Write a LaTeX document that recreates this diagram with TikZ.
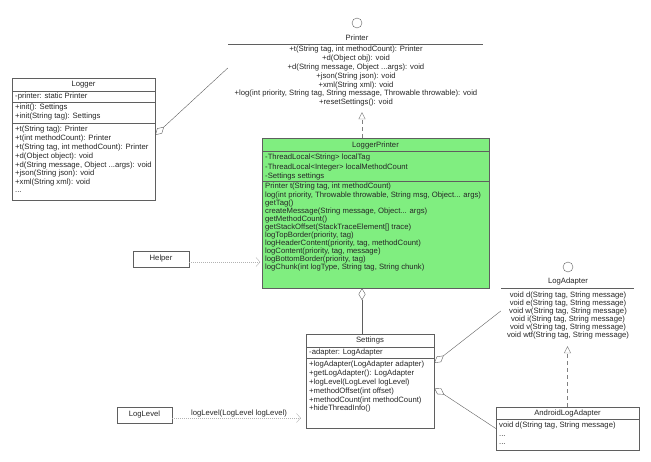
\documentclass[tikz,border=0pt]{standalone}
\usepackage{fontspec}
\setmainfont{Liberation Sans}
\usetikzlibrary{calc,arrows.meta}
\definecolor{linegray}{RGB}{95,95,95}
\definecolor{lpgreen}{RGB}{128,238,128}
\newcommand\threedots{...}
\tikzset{
    cls/.style={draw=linegray,rectangle,inner sep=0pt},
    mem/.style={anchor=west,inner sep=0pt,text=black!85,font=\fontsize{7.7}{9}\selectfont},
    ttl/.style={inner sep=0pt,text=black!85,font=\fontsize{7.7}{9}\selectfont},
    agg/.style={draw=linegray,{Diamond[open,length=12pt,width=7pt]}-},
    dep/.style={draw=gray!60,dash pattern=on 1pt off 1pt,-{Straight Barb[length=4pt,width=9pt]}},
    real/.style={draw=gray,dash pattern=on 4pt off 3pt,-{Triangle[open,length=7pt,width=7pt]}}
}
\begin{document}
\begin{tikzpicture}[x=1pt,y=-1pt]
    \useasboundingbox (0,0) rectangle (651,462);

    \node[inner sep=0pt,minimum width=255,minimum height=88] (printer) at (355.5,68) {};
    \draw[linegray] (357,23) circle (5);
    \node[ttl] (printertitle) at (357,38) {Printer};
    \draw[linegray] (228,44) -- (483,44);
    \foreach \m [count=\i from 0] in {{+t(String tag, int methodCount): Printer},{+d(Object obj): void},{+d(String message, Object \threedots args): void},{+json(String json): void},{+xml(String xml): void},{+log(int priority, String tag, String message, Throwable throwable): void},{+resetSettings(): void}}{
        \node[ttl] at (356,{50+8.8*\i}) {\m};
    }

    \node[cls,minimum width=143,minimum height=122] (logger) at (83.5,139) {};
    \node[ttl] (loggertitle) at (83.5,85) {Logger};
    \foreach \y in {91,102,123}{
        \draw[linegray] (12,\y) -- (155,\y);
    }
    \node[mem] at (15,96.5) {-printer: static Printer};
    \foreach \m [count=\i from 0] in {{+init(): Settings},{+init(String tag): Settings}}{
        \node[mem] at (15,{108+8.8*\i}) {\m};
    }
    \foreach \m [count=\i from 0] in {{+t(String tag): Printer},{+t(int methodCount): Printer},{+t(String tag, int methodCount): Printer},{+d(Object object): void},{+d(String message, Object \threedots args): void},{+json(String json): void},{+xml(String xml): void},{\threedots}}{
        \node[mem] at (15,{130+8.8*\i}) {\m};
    }

    \node[cls,fill=lpgreen,minimum width=227,minimum height=150] (lp) at (375.5,213) {};
    \node[ttl] (lptitle) at (375.5,146) {LoggerPrinter};
    \foreach \y in {151.5,181}{
        \draw[linegray] (262,\y) -- (489,\y);
    }
    \foreach \m [count=\i from 0] in {{-ThreadLocal<String> localTag},{-ThreadLocal<Integer> localMethodCount},{-Settings settings}}{
        \node[mem] at (265,{158+9.3*\i}) {\m};
    }
    \foreach \m [count=\i from 0] in {{Printer t(String tag, int methodCount)},{log(int priority, Throwable throwable, String msg, Object\threedots{} args)},{getTag()},{createMessage(String message, Object\threedots{} args)},{getMethodCount()},{getStackOffset(StackTraceElement[] trace)},{logTopBorder(priority, tag)},{logHeaderContent(priority, tag, methodCount)},{logContent(priority, tag, message)},{logBottomBorder(priority, tag)},{logChunk(int logType, String tag, String chunk)}}{
        \node[mem] at (265,{187+8.1*\i}) {\m};
    }

    \node[cls,minimum width=56,minimum height=16] (helper) at (161,259) {};
    \node[ttl] at (helper) {Helper};

    \node[cls,minimum width=128,minimum height=94] (settings) at (370,381) {};
    \node[ttl] (settingstitle) at (370,341) {Settings};
    \foreach \y in {347,358}{
        \draw[linegray] (306,\y) -- (434,\y);
    }
    \node[mem] at (309,352.5) {-adapter: LogAdapter};
    \foreach \m [count=\i from 0] in {{+logAdapter(LogAdapter adapter)},{+getLogAdapter(): LogAdapter},{+logLevel(LogLevel logLevel)},{+methodOffset(int offset)},{+methodCount(int methodCount)},{+hideThreadInfo()}}{
        \node[mem] at (309,{365+8.8*\i}) {\m};
    }

    \node[cls,minimum width=55,minimum height=16] (loglevel) at (144.5,415) {};
    \node[ttl] at (loglevel) {LogLevel};

    \node[inner sep=0pt,minimum width=133,minimum height=70] (logadapter) at (567.5,311) {};
    \draw[linegray] (568,267) circle (5);
    \node[ttl] (logadaptertitle) at (568,282) {LogAdapter};
    \draw[linegray] (501,288) -- (634,288);
    \foreach \m [count=\i from 0] in {{void d(String tag, String message)},{void e(String tag, String message)},{void w(String tag, String message)},{void i(String tag, String message)},{void v(String tag, String message)},{void wtf(String tag, String message)}}{
        \node[ttl] at (568,{296+8*\i}) {\m};
    }

    \node[cls,minimum width=143,minimum height=43] (android) at (567.5,428.5) {};
    \node[ttl] (androidtitle) at (567.5,413.5) {AndroidLogAdapter};
    \draw[linegray] (496,419.5) -- (639,419.5);
    \node[mem] at (499,426) {void d(String tag, String message)};
    \node[mem] at (499,436) {...};
    \node[mem] at (499,444) {...};

    \coordinate (lptop) at ([xshift=-13.5pt]lp.north);
    \coordinate (lpbot) at ([xshift=-13.5pt]lp.south);
    \draw[agg] ([yshift=4pt]logger.east) -- (printer.west);
    \draw[real] (lptop) -- (lptop |- printer.south);
    \draw[agg] (lpbot) -- (lpbot |- settings.north);
    \draw[dep,shorten >=1.5pt] ([yshift=-3pt]helper.east) -- ([yshift=-3pt]helper.east -| lp.west);
    \draw[dep,shorten >=5pt] ([yshift=-3pt]loglevel.east) -- node[ttl,above,inner sep=0.8pt] {logLevel(LogLevel logLevel)} ([yshift=-3pt]loglevel.east -| settings.west);
    \draw[agg] ([yshift=18pt]settings.east) -- (logadapter.west);
    \draw[agg] ([yshift=-7pt]settings.east) -- (android.west);
    \draw[real] (android.north) -- (logadapter.south);
\end{tikzpicture}
\end{document}
